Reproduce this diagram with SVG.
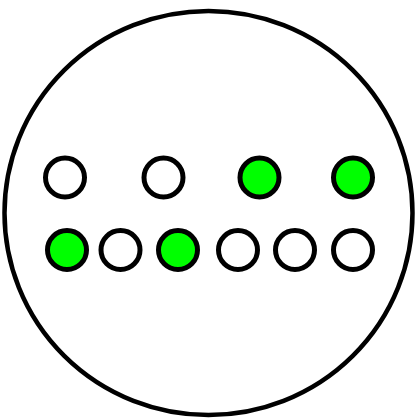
<svg xmlns="http://www.w3.org/2000/svg" width="417" height="418" viewBox="0 0 417 418">
<style>
.outer{fill:#fff;stroke:#000;stroke-width:4.5}
.dot{stroke:#000;stroke-width:5}
.off{fill:#fff}
.on{fill:#00ff00}
</style>
<rect width="417" height="418" fill="#fff"/>
<g id="container"><ellipse class="outer" cx="208.5" cy="213" rx="204" ry="202"/></g>
<g id="row1">
<g id="d1"><circle class="dot off" cx="65" cy="177.5" r="19.5"/></g>
<g id="d2"><circle class="dot off" cx="163.5" cy="177.5" r="19.5"/></g>
<g id="d3"><circle class="dot on" cx="259.5" cy="177.5" r="19.5"/></g>
<g id="d4"><circle class="dot on" cx="353" cy="177.5" r="19.5"/></g>
</g>
<g id="row2">
<g id="e1"><circle class="dot on" cx="67" cy="250" r="19.5"/></g>
<g id="e2"><circle class="dot off" cx="120.5" cy="250" r="19.5"/></g>
<g id="e3"><circle class="dot on" cx="178" cy="250" r="19.5"/></g>
<g id="e4"><circle class="dot off" cx="238" cy="250" r="19.5"/></g>
<g id="e5"><circle class="dot off" cx="295" cy="250" r="19.5"/></g>
<g id="e6"><circle class="dot off" cx="353" cy="250" r="19.5"/></g>
</g>
<g id="connectors"/>
</svg>
